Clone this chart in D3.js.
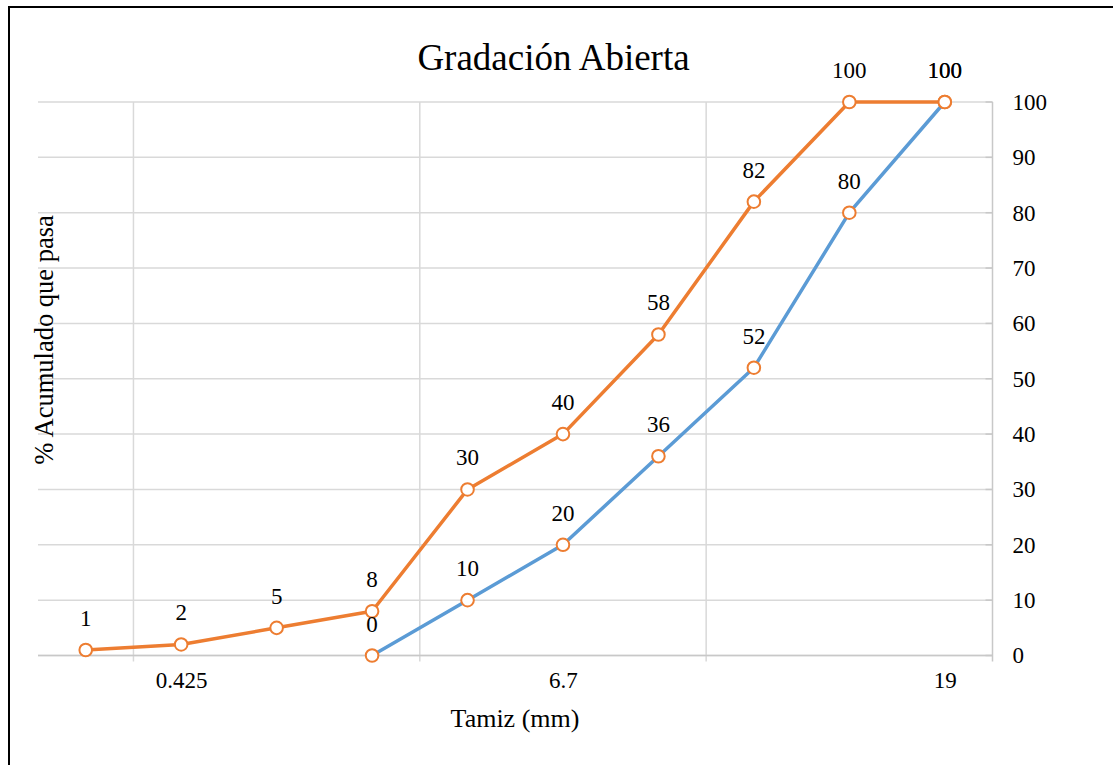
<!DOCTYPE html>
<html>
<head>
<meta charset="utf-8">
<script src="https://cdn.jsdelivr.net/npm/d3@7"></script>
<style>
  html, body { margin: 0; padding: 0; background: #fff; }
  svg { display: block; }
  svg text { font-family: "Liberation Serif", "Times New Roman", serif !important; fill: #000; }
</style>
</head>
<body>
<svg id="chart" width="1113" height="765"></svg>
<script>
// Sieve positions (only some carry a printed label)
const sieveLabels = ["", "0.425", "", "", "", "6.7", "", "", "", "19"];
// Upper band (orange) and lower band (blue) of the open gradation, % passing
const upperBand = [1, 2, 5, 8, 30, 40, 58, 82, 100, 100];
const lowerBand = [null, null, null, 0, 10, 20, 36, 52, 80, 100];
const yTicks = [0, 10, 20, 30, 40, 50, 60, 70, 80, 90, 100];
// Category boundaries that get a vertical gridline / tick mark
const xBoundaries = [1, 4, 7, 10];

const ORANGE = "#ED7D31", BLUE = "#5B9BD5", GRID = "#d9d9d9";

const svg = d3.select("#chart");
const plot = { left: 38, right: 992.5, top: 102, bottom: 655.5 };

// Outer chart frame
svg.append("rect")
  .attr("x", 9).attr("y", 7).attr("width", 1300).attr("height", 1000)
  .attr("fill", "none").attr("stroke", "#000").attr("stroke-width", 2);

const idx = d3.range(sieveLabels.length);
const x = d3.scalePoint().domain(idx).range([plot.left, plot.right]).padding(0.5);
const step = x.step();
const y = d3.scaleLinear().domain([0, 100]).range([plot.bottom, plot.top]);

// Horizontal gridlines
svg.append("g").selectAll("line").data(yTicks).join("line")
  .attr("x1", plot.left).attr("x2", plot.right)
  .attr("y1", d => y(d)).attr("y2", d => y(d))
  .attr("stroke", GRID).attr("stroke-width", 1.5);

// Vertical gridlines at category boundaries
const bx = b => plot.left + b * step;
svg.append("g").selectAll("line").data(xBoundaries.slice(0, -1)).join("line")
  .attr("x1", bx).attr("x2", bx)
  .attr("y1", plot.top).attr("y2", plot.bottom + 6)
  .attr("stroke", GRID).attr("stroke-width", 1.5);

// Right value axis
svg.append("line")
  .attr("x1", plot.right).attr("x2", plot.right)
  .attr("y1", plot.top).attr("y2", plot.bottom + 6)
  .attr("stroke", "#c8c8c8").attr("stroke-width", 1.5);
svg.append("g").selectAll("line").data(yTicks).join("line")
  .attr("x1", plot.right - 7).attr("x2", plot.right)
  .attr("y1", d => y(d)).attr("y2", d => y(d))
  .attr("stroke", "#c8c8c8").attr("stroke-width", 1.5);

const yAxis = d3.axisRight(y).tickValues(yTicks).tickSize(0).tickPadding(20);
const yg = svg.append("g").attr("transform", `translate(${plot.right},0)`).call(yAxis);
yg.select(".domain").remove();
yg.selectAll("text").style("font-size", "23px");

// Category axis
svg.append("line")
  .attr("x1", plot.left).attr("x2", plot.right)
  .attr("y1", plot.bottom).attr("y2", plot.bottom)
  .attr("stroke", "#c8c8c8").attr("stroke-width", 1.5);
const xAxis = d3.axisBottom(x).tickSize(0).tickPadding(16)
  .tickValues(idx.filter(i => sieveLabels[i] !== ""))
  .tickFormat(i => sieveLabels[i]);
const xg = svg.append("g").attr("transform", `translate(0,${plot.bottom})`).call(xAxis);
xg.select(".domain").remove();
xg.selectAll("text").style("font-size", "23px");

// Series lines
const line = d3.line()
  .defined(d => d != null)
  .x((d, i) => x(i)).y(d => y(d));

svg.append("path").datum(lowerBand).attr("d", line)
  .attr("fill", "none").attr("stroke", BLUE).attr("stroke-width", 3.5)
  .attr("stroke-linejoin", "round");
svg.append("path").datum(upperBand).attr("d", line)
  .attr("fill", "none").attr("stroke", ORANGE).attr("stroke-width", 3.5)
  .attr("stroke-linejoin", "round");

// Markers and value labels for both series
[lowerBand, upperBand].forEach(series => {
  const pts = series.map((v, i) => ({ v, i })).filter(p => p.v != null);
  svg.append("g").selectAll("circle").data(pts).join("circle")
    .attr("cx", p => x(p.i)).attr("cy", p => y(p.v)).attr("r", 6.3)
    .attr("fill", "#fff").attr("stroke", ORANGE).attr("stroke-width", 2);
});
[lowerBand, upperBand].forEach(series => {
  const pts = series.map((v, i) => ({ v, i })).filter(p => p.v != null);
  svg.append("g").selectAll("text").data(pts).join("text")
    .attr("x", p => x(p.i)).attr("y", p => y(p.v) - 24)
    .attr("text-anchor", "middle").style("font-size", "23px")
    .text(p => p.v);
});

// Titles
svg.append("text").attr("x", 553.5).attr("y", 70).attr("text-anchor", "middle")
  .style("font-size", "37px").text("Gradación Abierta");
svg.append("text").attr("x", 515).attr("y", 727).attr("text-anchor", "middle")
  .style("font-size", "26px").text("Tamiz (mm)");
svg.append("text").attr("transform", "translate(53,340) rotate(-90)")
  .attr("text-anchor", "middle").style("font-size", "26.5px")
  .text("% Acumulado que pasa");
</script>
</body>
</html>
